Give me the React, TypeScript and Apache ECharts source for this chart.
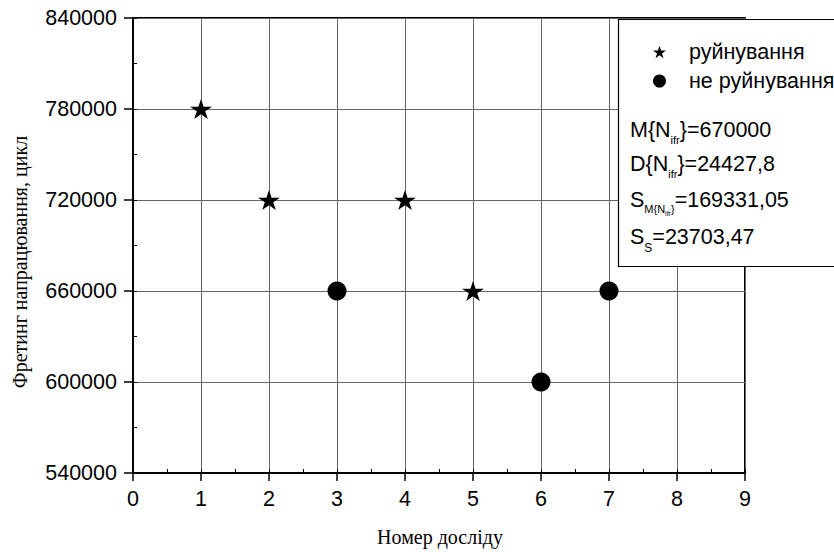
import React, { useEffect, useRef } from 'react';
import * as echarts from 'echarts';

// ---- data ----
const seriesNames = ['руйнування', 'не руйнування'];
const failX = [1, 2, 4, 5];
const failY = [780000, 720000, 720000, 660000];
const survX = [3, 6, 7];
const survY = [660000, 600000, 660000];

const xMin = 0;
const xMax = 9;
const xStep = 1;
const yMin = 540000;
const yMax = 840000;
const yStep = 60000;

const xTitle = 'Номер досліду';
const yTitle = 'Фретинг напрацювання, цикл';

// statistics rows: [text, level] (0 = normal, 1 = subscript, 2 = sub-subscript, 3 = S subscript)
const statRows: [string, number][][] = [
  [['M{N', 0], ['ifr', 1], ['}=670000', 0]],
  [['D{N', 0], ['ifr', 1], ['}=24427,8', 0]],
  [['S', 0], ['M{N', 1], ['ifr', 2], ['}', 1], ['=169331,05', 0]],
  [['S', 0], ['S', 3], ['=23703,47', 0]],
];

const STAR =
  'path://M50 0 L61.23 34.55 L97.55 34.55 L68.17 55.9 L79.39 90.45 L50 69.1 L20.61 90.45 L31.83 55.9 L2.45 34.55 L38.77 34.55 Z';

const SANS = '"Liberation Sans", Arial, Helvetica, sans-serif';
const SERIF = '"Liberation Serif", "Times New Roman", serif';

const levelSize = [21.5, 11, 7, 12];
const levelDy = [0, 9.5, 13.5, 11];

function measure(ctx: CanvasRenderingContext2D | null, text: string, size: number) {
  if (!ctx) return text.length * size * 0.55;
  ctx.font = `${size}px ${SANS}`;
  return ctx.measureText(text).width;
}

export default function App() {
  const ref = useRef<HTMLDivElement>(null);

  useEffect(() => {
    if (!ref.current) return;
    const chart = echarts.init(ref.current, null, { renderer: 'svg' });

    const canvas = document.createElement('canvas');
    const ctx = canvas.getContext('2d');

    const rowCenters = [130, 164, 199.5, 236.5];
    const statElements: any[] = [];
    statRows.forEach((row, ri) => {
      let x = 630;
      row.forEach(([t, lvl]) => {
        const size = levelSize[lvl];
        statElements.push({
          type: 'text',
          x,
          y: rowCenters[ri] + levelDy[lvl],
          z: 60,
          style: {
            text: t,
            fontSize: size,
            fontFamily: SANS,
            fill: '#000',
            align: 'left',
            verticalAlign: 'middle',
          },
        });
        x += measure(ctx, t, size);
      });
    });

    const gridRect = { left: 133, right: 89, top: 18, bottom: 79 };

    const option: any = {
      animation: false,
      backgroundColor: '#fff',
      grid: [
        { ...gridRect, show: true, borderColor: '#000', borderWidth: 2, backgroundColor: 'transparent' },
        { ...gridRect },
      ],
      legend: {
        data: seriesNames,
        orient: 'vertical',
        left: 648,
        top: 36,
        itemWidth: 13,
        itemHeight: 13,
        itemGap: 7,
        z: 70,
        itemStyle: { opacity: 1 },
        textStyle: { fontSize: 21.5, fontFamily: SANS, color: '#000', padding: [0, 0, 0, 18] },
      },
      xAxis: [
        {
          gridIndex: 0,
          type: 'value',
          position: 'bottom',
          min: xMin,
          max: xMax,
          interval: xStep,
          axisLine: { show: true, lineStyle: { color: '#000', width: 2 } },
          axisTick: { show: true, inside: false, length: 8, lineStyle: { color: '#000', width: 1.5 } },
          axisLabel: { fontSize: 21.5, fontFamily: SANS, color: '#000', margin: 15 },
          splitLine: { show: true, lineStyle: { color: '#666', width: 1 } },
        },
        {
          gridIndex: 1,
          type: 'value',
          position: 'bottom',
          min: xMin,
          max: xMax,
          interval: xStep / 2,
          axisLine: { show: false },
          axisTick: { show: true, inside: true, length: 4, lineStyle: { color: '#000', width: 1 } },
          axisLabel: { show: false },
          splitLine: { show: false },
        },
      ],
      yAxis: [
        {
          gridIndex: 0,
          type: 'value',
          position: 'left',
          min: yMin,
          max: yMax,
          interval: yStep,
          axisLine: { show: true, lineStyle: { color: '#000', width: 2 } },
          axisTick: { show: true, inside: false, length: 9, lineStyle: { color: '#000', width: 1.5 } },
          axisLabel: {
            fontSize: 21.5,
            fontFamily: SANS,
            color: '#000',
            margin: 16,
            formatter: (v: number) => String(v),
          },
          splitLine: { show: true, lineStyle: { color: '#666', width: 1 } },
        },
        {
          gridIndex: 1,
          type: 'value',
          position: 'left',
          min: yMin,
          max: yMax,
          interval: yStep / 2,
          axisLine: { show: false },
          axisTick: { show: true, inside: true, length: 4, lineStyle: { color: '#000', width: 1 } },
          axisLabel: { show: false },
          splitLine: { show: false },
        },
      ],
      series: [
        {
          name: seriesNames[0],
          type: 'scatter',
          xAxisIndex: 0,
          yAxisIndex: 0,
          symbol: STAR,
          symbolKeepAspect: true,
          symbolSize: [22, 21],
          itemStyle: { color: '#000', opacity: 1 },
          data: failX.map((x, i) => [x, failY[i]]),
          z: 5,
        },
        {
          name: seriesNames[1],
          type: 'scatter',
          xAxisIndex: 0,
          yAxisIndex: 0,
          symbol: 'circle',
          symbolSize: 19,
          itemStyle: { color: '#000', opacity: 1 },
          data: survX.map((x, i) => [x, survY[i]]),
          z: 5,
        },
      ],
      graphic: [
        {
          type: 'rect',
          z: 50,
          shape: { x: 618.5, y: 19.5, width: 300, height: 247 },
          style: { fill: '#fff', stroke: '#000', lineWidth: 1.2 },
        },
        ...statElements,
        {
          type: 'text',
          x: 440,
          y: 537,
          z: 60,
          style: {
            text: xTitle,
            fontSize: 20,
            fontFamily: SERIF,
            fill: '#000',
            align: 'center',
            verticalAlign: 'middle',
          },
        },
        {
          type: 'text',
          x: 20,
          y: 262,
          rotation: Math.PI / 2,
          z: 60,
          style: {
            text: yTitle,
            fontSize: 20,
            fontFamily: SERIF,
            fill: '#000',
            align: 'center',
            verticalAlign: 'middle',
          },
        },
      ],
    };

    chart.setOption(option);
    return () => chart.dispose();
  }, []);

  return (
    <div
      ref={ref}
      style={{ position: 'fixed', left: 0, top: 0, width: 834, height: 552, background: '#fff' }}
    />
  );
}
